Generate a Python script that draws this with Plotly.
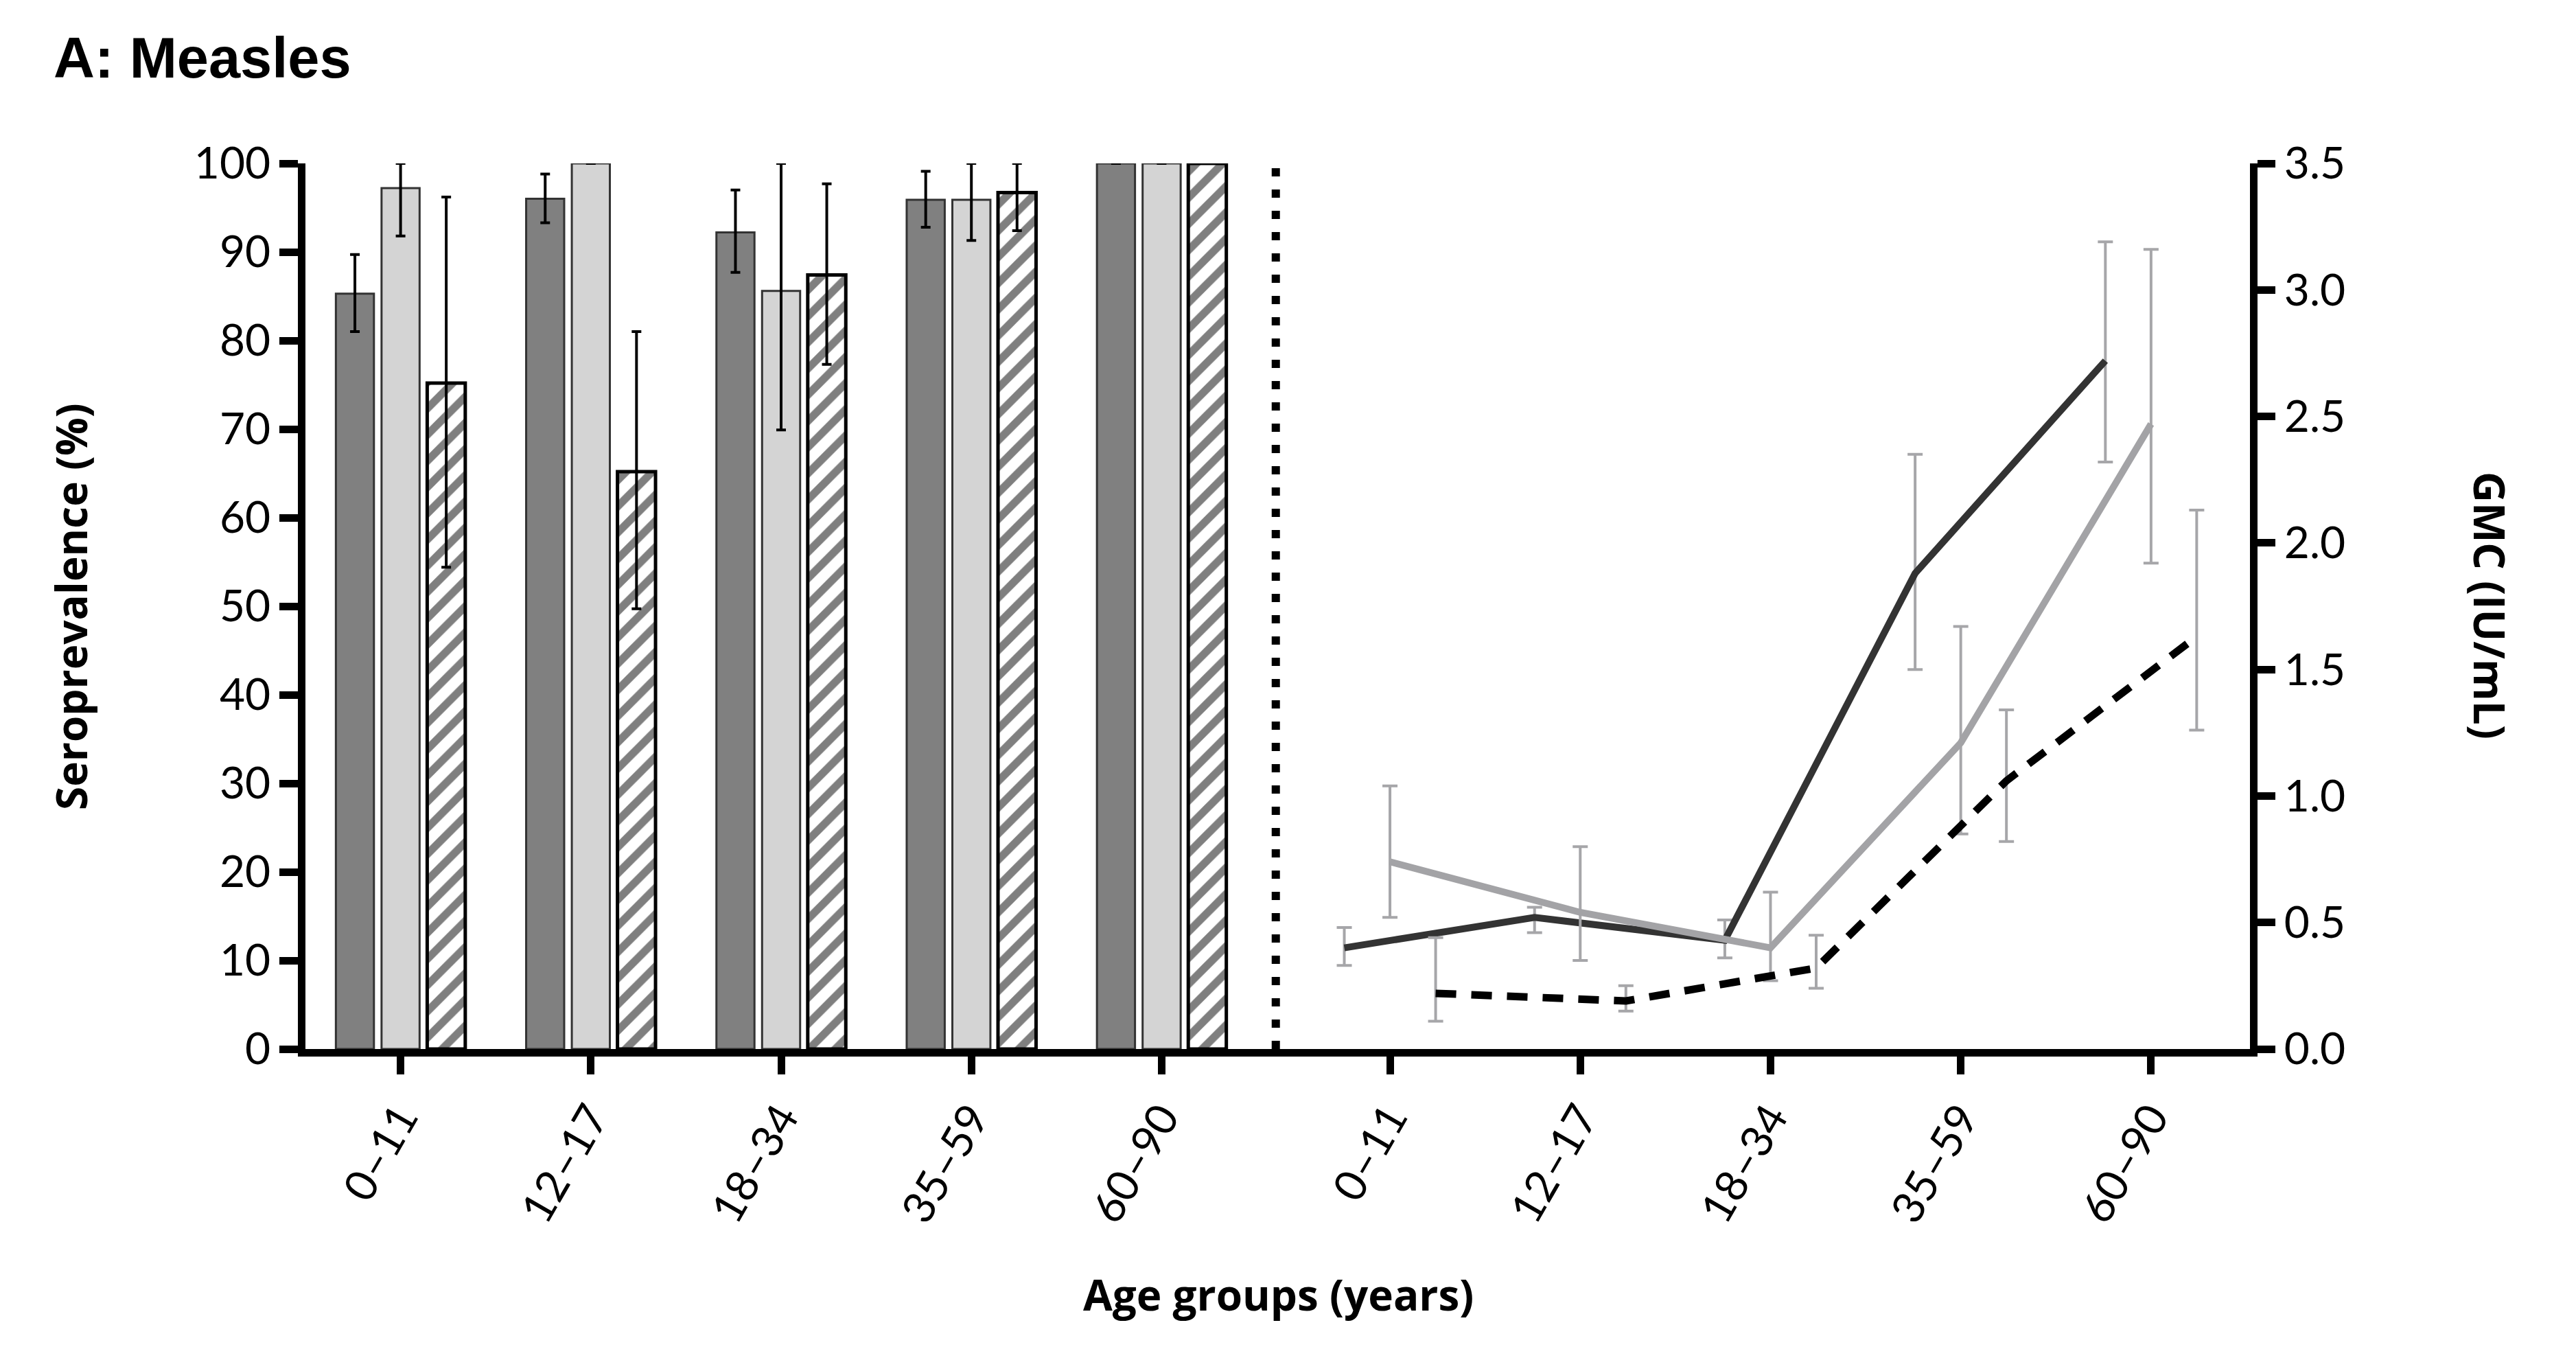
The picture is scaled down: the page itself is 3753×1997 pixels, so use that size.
import plotly.graph_objects as go

# ---------------- data ----------------
age_groups = ["0–11", "12–17", "18–34", "35–59", "60–90"]

# Seroprevalence (%) – three bar series
sero_dark = [85.3, 96.0, 92.2, 95.9, 100.0]
sero_dark_hi = [89.7, 98.8, 97.0, 99.1, None]
sero_dark_lo = [81.0, 93.3, 87.7, 92.8, None]

sero_light = [97.2, 100.0, 85.6, 95.9, 100.0]
sero_light_hi = [100.0, None, 100.0, 100.0, None]
sero_light_lo = [91.8, None, 69.9, 91.3, None]

sero_hatch = [75.2, 65.2, 87.4, 96.7, 100.0]
sero_hatch_hi = [96.2, 81.0, 97.7, 100.0, None]
sero_hatch_lo = [54.4, 49.7, 77.3, 92.4, None]

# GMC (IU/mL) – three line series
gmc_dark = [0.40, 0.52, 0.43, 1.88, 2.72]
gmc_dark_hi = [0.48, 0.56, 0.51, 2.35, 3.19]
gmc_dark_lo = [0.33, 0.46, 0.36, 1.50, 2.32]

gmc_light = [0.74, 0.54, 0.40, 1.21, 2.47]
gmc_light_hi = [1.04, 0.80, 0.62, 1.67, 3.16]
gmc_light_lo = [0.52, 0.35, 0.27, 0.85, 1.92]

gmc_dash = [0.22, 0.19, 0.32, 1.06, 1.63]
gmc_dash_hi = [0.44, 0.25, 0.45, 1.34, 2.13]
gmc_dash_lo = [0.11, 0.15, 0.24, 0.82, 1.26]

# ---------------- helpers ----------------
def plus(hi, v):
    return [None if h is None else h - x for h, x in zip(hi, v)]

def minus(lo, v):
    return [None if l is None else x - l for l, x in zip(lo, v)]

n = len(age_groups)
bar_pos = list(range(n))
line_pos = [5.2 + i for i in range(n)]
dodge = 0.24
bw = 0.2

W_PX, H_PX = 3753, 1997
L, R, T, B = 445, 3278, 238, 1528

def px_x(p):
    return (p - L) / (R - L)

def px_y(p):
    return (B - p) / (B - T)

fig = go.Figure()

# bars
bar_line = dict(color="#333333", width=3)
fig.add_trace(go.Bar(
    x=bar_pos, y=sero_dark, width=bw, offset=-dodge - bw / 2,
    marker=dict(color="#808080", line=bar_line),
    error_y=dict(type="data", symmetric=False, array=plus(sero_dark_hi, sero_dark),
                 arrayminus=minus(sero_dark_lo, sero_dark), color="black", thickness=4, width=7),
    showlegend=False))
fig.add_trace(go.Bar(
    x=bar_pos, y=sero_light, width=bw, offset=-bw / 2,
    marker=dict(color="#d4d4d4", line=bar_line),
    error_y=dict(type="data", symmetric=False, array=plus(sero_light_hi, sero_light),
                 arrayminus=minus(sero_light_lo, sero_light), color="black", thickness=4, width=7),
    showlegend=False))
fig.add_trace(go.Bar(
    x=bar_pos, y=sero_hatch, width=bw, offset=dodge - bw / 2,
    marker=dict(color="white", line=dict(color="black", width=5),
                pattern=dict(shape="/", fgcolor="black", bgcolor="white", size=27, solidity=0.42)),
    error_y=dict(type="data", symmetric=False, array=plus(sero_hatch_hi, sero_hatch),
                 arrayminus=minus(sero_hatch_lo, sero_hatch), color="black", thickness=4, width=7),
    showlegend=False))

# lines
err_gray = "#a6a6a9"
fig.add_trace(go.Scatter(
    x=[p - dodge for p in line_pos], y=gmc_dark, yaxis="y2", mode="lines",
    line=dict(color="#333333", width=10),
    error_y=dict(type="data", symmetric=False, array=plus(gmc_dark_hi, gmc_dark),
                 arrayminus=minus(gmc_dark_lo, gmc_dark), color=err_gray, thickness=4, width=11),
    showlegend=False))
fig.add_trace(go.Scatter(
    x=line_pos, y=gmc_light, yaxis="y2", mode="lines",
    line=dict(color="#a3a3a6", width=10),
    error_y=dict(type="data", symmetric=False, array=plus(gmc_light_hi, gmc_light),
                 arrayminus=minus(gmc_light_lo, gmc_light), color=err_gray, thickness=4, width=11),
    showlegend=False))
fig.add_trace(go.Scatter(
    x=[p + dodge for p in line_pos], y=gmc_dash, yaxis="y2", mode="lines",
    line=dict(color="black", width=11, dash="30px,22px"),
    error_y=dict(type="data", symmetric=False, array=plus(gmc_dash_hi, gmc_dash),
                 arrayminus=minus(gmc_dash_lo, gmc_dash), color=err_gray, thickness=4, width=11),
    showlegend=False))

# dotted separator
fig.add_shape(type="line", xref="x", yref="y", x0=4.6, x1=4.6, y0=0, y1=100,
              line=dict(color="black", width=12, dash="12px,19px"))

tick_font = dict(family="Lato", size=64, color="black")
title_font = dict(family="Open Sans", size=62, color="black")

fig.update_layout(
    width=W_PX, height=H_PX,
    margin=dict(l=L, r=W_PX - R, t=T, b=H_PX - B, pad=0),
    paper_bgcolor="white", plot_bgcolor="white",
    barmode="overlay",
    xaxis=dict(range=[-0.5, 9.72], tickvals=bar_pos + line_pos, ticktext=age_groups + age_groups,
               tickangle=-60, ticks="outside", ticklen=26, tickwidth=11, tickcolor="black",
               showline=True, linewidth=11, linecolor="black", showgrid=False, zeroline=False,
               tickfont=tick_font),
    yaxis=dict(range=[0, 100], dtick=10, ticks="outside", ticklen=27, tickwidth=11, tickcolor="black",
               showline=True, linewidth=11, linecolor="black", showgrid=False, zeroline=False,
               tickfont=tick_font),
    yaxis2=dict(range=[0, 3.5], dtick=0.5, tickformat=".1f", overlaying="y", side="right",
                ticks="outside", ticklen=26, tickwidth=11, tickcolor="black",
                showline=True, linewidth=11, linecolor="black", showgrid=False, zeroline=False,
                tickfont=tick_font),
    annotations=[
        dict(text="<b>A: Measles</b>", xref="paper", yref="paper", x=px_x(76), y=px_y(84),
             xanchor="left", yanchor="middle", showarrow=False,
             font=dict(family="Liberation Sans", size=83, color="black")),
        dict(text="<b>Seroprevalence (%)</b>", xref="paper", yref="paper", x=px_x(103), y=px_y(884),
             xanchor="center", yanchor="middle", textangle=-90, showarrow=False, font=title_font),
        dict(text="<b>GMC (IU/mL)</b>", xref="paper", yref="paper", x=px_x(3628), y=px_y(882),
             xanchor="center", yanchor="middle", textangle=90, showarrow=False, font=title_font),
        dict(text="<b>Age groups (years)</b>", xref="paper", yref="paper", x=px_x(1862), y=px_y(1885),
             xanchor="center", yanchor="middle", showarrow=False, font=title_font),
    ],
)

fig.write_html("out.html", post_script="document.body.style.margin='0';",
               config={"displayModeBar": False})
